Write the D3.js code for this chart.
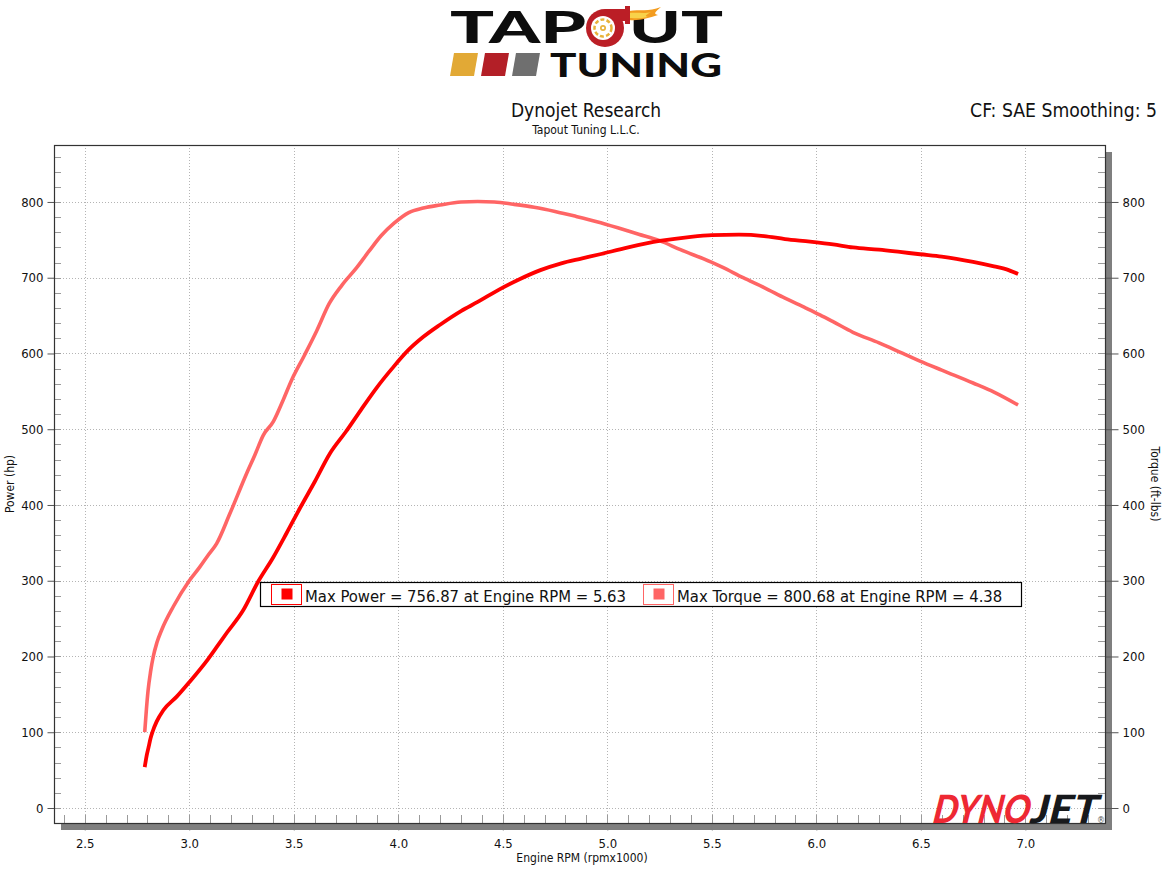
<!DOCTYPE html>
<html>
<head>
<meta charset="utf-8">
<script src="https://cdn.jsdelivr.net/npm/d3@7"></script>
<style>
  html, body { margin: 0; padding: 0; background: #ffffff; }
  svg { display: block; }
  .cond { font-family: "DejaVu Sans Condensed", "DejaVu Sans", sans-serif; font-stretch: condensed; }
</style>
</head>
<body>
<svg id="chart" width="1176" height="874"></svg>
<script>
// ---------------- DATA ----------------
const powerRpm = [2.787, 2.797, 2.806, 2.815, 2.825, 2.844, 2.876, 2.94, 3.0, 3.091, 3.13, 3.179, 3.258, 3.33, 3.40, 3.466, 3.53, 3.601, 3.673, 3.75, 3.82, 3.90, 3.97, 4.05, 4.12, 4.20, 4.30, 4.38, 4.48, 4.58, 4.68, 4.78, 4.88, 4.965, 5.1, 5.25, 5.4, 5.5, 5.63, 5.75, 5.85, 5.97, 6.08, 6.175, 6.3, 6.4, 6.496, 6.6, 6.75, 6.85, 6.92, 6.965];
const powerHp  = [54, 70, 81, 92, 101, 114, 129, 147, 166, 197, 212, 231, 261, 299, 330, 363, 396, 431, 468, 497, 525, 556, 580, 605, 622, 638, 656, 668, 684, 698, 710, 719, 725.5, 731, 740, 748.5, 754, 756.2, 756.87, 755, 751, 747.6, 744, 740, 737, 734, 731, 728, 721, 715, 710, 705];

const torqueRpm = [2.787, 2.795, 2.803, 2.815, 2.828, 2.845, 2.868, 2.924, 3.0, 3.05, 3.091, 3.131, 3.195, 3.275, 3.314, 3.354, 3.402, 3.45, 3.49, 3.55, 3.61, 3.67, 3.73, 3.80, 3.86, 3.92, 3.98, 4.05, 4.12, 4.20, 4.30, 4.38, 4.46, 4.55, 4.65, 4.75, 4.85, 4.95, 5.05, 5.15, 5.25, 5.35, 5.495, 5.55, 5.65, 5.75, 5.85, 5.95, 6.017, 6.08, 6.175, 6.3, 6.414, 6.496, 6.6, 6.75, 6.85, 6.965];
const torqueFtLb = [100, 130, 155, 180, 200, 218, 235, 266, 300, 318, 334, 349, 389, 442, 466, 492, 510, 539, 565, 597, 630, 666, 690, 713, 735, 756, 772, 786, 792, 796, 800, 800.68, 800, 797, 793, 787.5, 781, 774, 766, 757.5, 749, 737, 721, 714, 700, 687, 673, 660, 651, 642, 628, 614, 600, 590, 578, 561, 549, 532];

const xTicks = [2.5, 3.0, 3.5, 4.0, 4.5, 5.0, 5.5, 6.0, 6.5, 7.0];
const yTicks = [0, 100, 200, 300, 400, 500, 600, 700, 800];
const legendLabels = ["Max Power = 756.87 at Engine RPM = 5.63", "Max Torque = 800.68 at Engine RPM = 4.38"];
const seriesColors = ["#ff0000", "#ff6565"];

const titleText = "Dynojet Research";
const subtitleText = "Tapout Tuning L.L.C.";
const cfText = "CF: SAE Smoothing: 5";
const xLabel = "Engine RPM (rpmx1000)";
const yLeftLabel = "Power (hp)";
const yRightLabel = "Torque (ft-lbs)";

// ---------------- LAYOUT ----------------
const svg = d3.select("#chart");
const L = 54, R = 1105, T = 145, B = 823;

const x = d3.scaleLinear().domain([2.353, 7.381]).range([L, R]);
const y = d3.scaleLinear().domain([-19.8, 875.2]).range([B, T]);

// shadow
svg.append("rect").attr("x", R).attr("y", T + 7).attr("width", 7).attr("height", B - T).attr("fill", "#7f7f7f");
svg.append("rect").attr("x", L + 7).attr("y", B).attr("width", R - L).attr("height", 7).attr("fill", "#7f7f7f");
svg.append("rect").attr("x", L).attr("y", T).attr("width", R - L).attr("height", B - T).attr("fill", "#ffffff");

// grid
const grid = svg.append("g");
grid.selectAll("line.gx").data(xTicks).join("line")
  .attr("x1", d => Math.round(x(d)) + 0.5).attr("x2", d => Math.round(x(d)) + 0.5)
  .attr("y1", T).attr("y2", B)
  .attr("stroke", "#b4b4b4").attr("stroke-width", 1).attr("stroke-dasharray", "1,2");
grid.selectAll("line.gy").data(yTicks).join("line")
  .attr("x1", L).attr("x2", R)
  .attr("y1", d => Math.round(y(d)) + 0.5).attr("y2", d => Math.round(y(d)) + 0.5)
  .attr("stroke", "#b4b4b4").attr("stroke-width", 1).attr("stroke-dasharray", "1,2");

// minor ticks
const yMinor = d3.range(0, 861, 20);
const xMinor = d3.range(24, 74).map(d => d / 10);
const minorG = svg.append("g");
minorG.selectAll("line.ml").data(yMinor).join("line")
  .attr("x1", L).attr("x2", L + 7)
  .attr("y1", d => Math.round(y(d)) + 0.5).attr("y2", d => Math.round(y(d)) + 0.5)
  .attr("stroke", "#9a9a9a");
minorG.selectAll("line.mr").data(yMinor).join("line")
  .attr("x1", R - 7).attr("x2", R)
  .attr("y1", d => Math.round(y(d)) + 0.5).attr("y2", d => Math.round(y(d)) + 0.5)
  .attr("stroke", "#9a9a9a");
minorG.selectAll("line.mx").data(xMinor).join("line")
  .attr("x1", d => Math.round(x(d)) + 0.5).attr("x2", d => Math.round(x(d)) + 0.5)
  .attr("y1", B - 8).attr("y2", B)
  .attr("stroke", "#9a9a9a");

// axes
const axL = svg.append("g").attr("class", "cond").attr("transform", `translate(${L + 0.5},0)`)
  .call(d3.axisLeft(y).tickValues(yTicks).tickSize(7).tickPadding(4).tickFormat(d3.format("d")));
const axR = svg.append("g").attr("class", "cond").attr("transform", `translate(${R + 0.5},0)`)
  .call(d3.axisRight(y).tickValues(yTicks).tickSize(13).tickPadding(4).tickFormat(d3.format("d")));
const axB = svg.append("g").attr("class", "cond").attr("transform", `translate(0,${B + 0.5})`)
  .call(d3.axisBottom(x).tickValues(xTicks).tickSize(7).tickPadding(8).tickFormat(d3.format(".1f")));
[axL, axR, axB].forEach(a => {
  a.select(".domain").remove();
  a.selectAll("text").attr("font-size", 13).attr("fill", "#111")
    .attr("font-family", "'DejaVu Sans Condensed','DejaVu Sans',sans-serif");
  a.selectAll(".tick line").attr("stroke", "#555");
});
axB.selectAll(".tick line").attr("stroke", "#7f7f7f");

// frame
svg.append("rect").attr("x", L + 0.5).attr("y", T + 0.5).attr("width", R - L).attr("height", B - T)
  .attr("fill", "none").attr("stroke", "#333").attr("stroke-width", 1.2);

// Dynojet logo (bottom right)
const djFont = "Lato, 'DejaVu Sans', sans-serif";
const dj = svg.append("g").attr("transform", "skewX(-14) translate(205,0)");
dj.append("text").attr("x", 931).attr("y", 823)
  .attr("font-family", djFont).attr("font-weight", 900)
  .attr("font-size", 39).attr("fill", "#ee2833")
  .attr("textLength", 97).attr("lengthAdjust", "spacingAndGlyphs").text("DYNO");
dj.append("text").attr("x", 1029).attr("y", 823)
  .attr("font-family", djFont).attr("font-weight", 900)
  .attr("font-size", 39).attr("fill", "#17191c")
  .attr("textLength", 67).attr("lengthAdjust", "spacingAndGlyphs").text("JET");
svg.append("text").attr("x", 1101).attr("y", 823).attr("text-anchor", "middle")
  .attr("font-family", "'DejaVu Sans', sans-serif").attr("font-size", 8).attr("fill", "#555").text("®");

// curves
const line = d3.line().x(d => x(d[0])).y(d => y(d[1])).curve(d3.curveMonotoneX);
const powerPts = powerRpm.map((r, i) => [r, powerHp[i]]);
const torquePts = torqueRpm.map((r, i) => [r, torqueFtLb[i]]);
svg.append("path").datum(torquePts).attr("d", line)
  .attr("fill", "none").attr("stroke", seriesColors[1]).attr("stroke-width", 3.6).attr("stroke-linejoin", "round");
svg.append("path").datum(powerPts).attr("d", line)
  .attr("fill", "none").attr("stroke", seriesColors[0]).attr("stroke-width", 3.8).attr("stroke-linejoin", "round");

// legend
const lg = svg.append("g").attr("class", "cond");
lg.append("rect").attr("x", 260.5).attr("y", 582.5).attr("width", 761).attr("height", 24)
  .attr("fill", "#ffffff").attr("stroke", "#000").attr("stroke-width", 1.2);
const legendPos = [{bx: 271.5, tx: 305}, {bx: 643.5, tx: 677}];
legendLabels.forEach((lab, i) => {
  const p = legendPos[i];
  lg.append("rect").attr("x", p.bx).attr("y", 584.5).attr("width", 30).attr("height", 20)
    .attr("fill", "#fff").attr("stroke", seriesColors[i]).attr("stroke-width", 1);
  lg.append("rect").attr("x", p.bx + 10).attr("y", 588.5).attr("width", 11).attr("height", 11)
    .attr("fill", seriesColors[i]);
  lg.append("text").attr("x", p.tx).attr("y", 601.5)
    .attr("font-family", "'DejaVu Sans Condensed','DejaVu Sans',sans-serif")
    .attr("font-size", 16.5).attr("fill", "#111").text(lab);
});

// titles
svg.append("text").attr("class", "cond").attr("x", 586).attr("y", 117).attr("text-anchor", "middle")
  .attr("font-size", 19).attr("fill", "#111").text(titleText);
svg.append("text").attr("class", "cond").attr("x", 586).attr("y", 134).attr("text-anchor", "middle")
  .attr("font-size", 12).attr("fill", "#111").text(subtitleText);
svg.append("text").attr("class", "cond").attr("x", 1157).attr("y", 117).attr("text-anchor", "end")
  .attr("font-size", 19.2).attr("fill", "#111").text(cfText);

// axis labels
svg.append("text").attr("class", "cond").attr("x", 582).attr("y", 862).attr("text-anchor", "middle")
  .attr("font-size", 12).attr("fill", "#111").text(xLabel);
svg.append("text").attr("class", "cond").attr("transform", "translate(14,484) rotate(-90)").attr("text-anchor", "middle")
  .attr("font-size", 12).attr("fill", "#111").text(yLeftLabel);
svg.append("text").attr("class", "cond").attr("transform", "translate(1151,484) rotate(90)").attr("text-anchor", "middle")
  .attr("font-size", 12).attr("fill", "#111").text(yRightLabel);

// ---------------- TAPOUT TUNING LOGO ----------------
const logo = svg.append("g");
const logoFont = "Lato, 'DejaVu Sans', sans-serif";
// colour blocks
const blockColors = ["#e2a935", "#b31f27", "#6f6f6f"];
blockColors.forEach((c, i) => {
  const x0 = 450 + i * 31;
  logo.append("polygon")
    .attr("points", `${x0},76 ${x0 + 24},76 ${x0 + 28},53 ${x0 + 4},53`)
    .attr("fill", c);
});
// logo lettering as one text element
const lt = logo.append("text").attr("font-family", logoFont).attr("font-weight", 900).attr("fill", "#0d0d0d");
lt.append("tspan").attr("x", 450).attr("y", 43).attr("font-size", 43)
  .attr("textLength", 136).attr("lengthAdjust", "spacingAndGlyphs").text("TAP");
lt.append("tspan").attr("x", 629).attr("y", 43).attr("font-size", 43)
  .attr("textLength", 94).attr("lengthAdjust", "spacingAndGlyphs").text("UT");
lt.append("tspan").attr("x", 550).attr("y", 77).attr("font-size", 33)
  .attr("textLength", 172).attr("lengthAdjust", "spacingAndGlyphs").text("TUNING");
// turbo
const tc = {x: 605, y: 28};
logo.append("path")
  .attr("d", "M629,11 C640,9 648,12 661,7 C655,12 653,14 658,15 C648,18 640,21 629,20 Z")
  .attr("fill", "#f39c1f");
logo.append("path")
  .attr("d", "M629,13 C638,12 644,14 651,12 C646,15 644,16 648,17 C640,19 636,18 629,18 Z")
  .attr("fill", "#f8d24a");
logo.append("rect").attr("x", 605).attr("y", 9).attr("width", 22).attr("height", 12).attr("fill", "#bb1e26");
logo.append("rect").attr("x", 625).attr("y", 6).attr("width", 5).attr("height", 18).attr("fill", "#bb1e26");
logo.append("circle").attr("cx", tc.x).attr("cy", tc.y).attr("r", 19).attr("fill", "#bb1e26");
logo.append("circle").attr("cx", tc.x - 2).attr("cy", tc.y).attr("r", 12).attr("fill", "#ffffff");
logo.append("circle").attr("cx", tc.x - 2).attr("cy", tc.y).attr("r", 8.5).attr("fill", "none")
  .attr("stroke", "#e8b23a").attr("stroke-width", 2.5).attr("stroke-dasharray", "4,2.2");
logo.append("circle").attr("cx", tc.x - 2).attr("cy", tc.y).attr("r", 3).attr("fill", "#e8b23a");
logo.append("circle").attr("cx", tc.x - 2).attr("cy", tc.y).attr("r", 1.3).attr("fill", "#ffffff");
</script>
</body>
</html>
